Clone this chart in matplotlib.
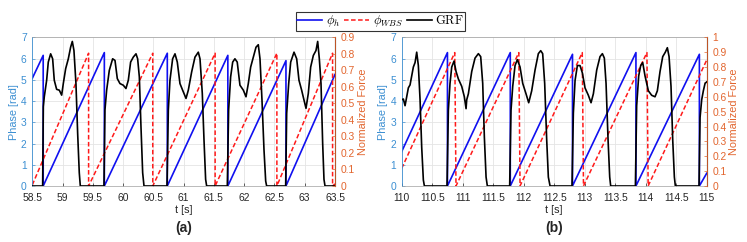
import numpy as np
import matplotlib.pyplot as plt
from matplotlib.lines import Line2D

plt.rcParams['font.family'] = ['Liberation Sans', 'DejaVu Sans']
plt.rcParams['mathtext.fontset'] = 'cm'

# ---- panel (a) ----
# phase of the hip oscillator, rad
blue_a_t = [58.5, 58.68, 58.68, 59.69, 59.69, 60.73, 60.73, 61.73, 61.73, 62.69, 62.69, 63.5]
blue_a = [5.07, 6.15, 0, 6.28, 0, 6.25, 0, 6.15, 0, 5.9, 0, 5.25]
# WBS phase, rad
red_a_t = [58.5, 59.43, 59.43, 60.49, 60.49, 61.52, 61.52, 62.54, 62.54, 63.46, 63.46, 63.5]
red_a = [0.05, 6.25, 0, 6.25, 0, 6.25, 0, 6.25, 0, 6.25, 0, 0.1]
# normalized ground reaction force
grf_a_t = [58.5, 58.671, 58.682, 58.698, 58.737, 58.764, 58.803, 58.836, 58.863, 58.902, 58.946,
           58.985, 59.012, 59.051, 59.095, 59.133, 59.161, 59.188, 59.221, 59.249, 59.276, 59.293,
           59.684, 59.700, 59.728, 59.772, 59.827, 59.866, 59.904, 59.948, 60.003, 60.047, 60.086,
           60.124, 60.168, 60.213, 60.240, 60.268, 60.295, 60.323, 60.345,
           60.725, 60.747, 60.774, 60.818, 60.857, 60.895, 60.939, 60.994, 61.039, 61.077, 61.132,
           61.187, 61.242, 61.270, 61.308, 61.336, 61.363, 61.380,
           61.721, 61.743, 61.776, 61.810, 61.847, 61.885, 61.930, 61.986, 62.030, 62.068, 62.107,
           62.151, 62.195, 62.233, 62.261, 62.294, 62.327, 62.355, 62.371,
           62.685, 62.702, 62.735, 62.768, 62.823, 62.867, 62.905, 62.949, 62.988, 63.021, 63.059,
           63.098, 63.142, 63.186, 63.214, 63.241, 63.269, 63.296, 63.318, 63.335, 63.5]
grf_a = [0, 0, 0.48, 0.54, 0.64, 0.75, 0.80, 0.77, 0.64, 0.585, 0.58,
         0.55, 0.62, 0.71, 0.77, 0.84, 0.875, 0.82, 0.62, 0.32, 0.08, 0,
         0, 0.46, 0.58, 0.70, 0.77, 0.76, 0.65, 0.62, 0.61, 0.59, 0.64,
         0.75, 0.78, 0.80, 0.77, 0.66, 0.36, 0.08, 0,
         0, 0.46, 0.64, 0.77, 0.80, 0.75, 0.62, 0.57, 0.53, 0.58, 0.69,
         0.78, 0.81, 0.77, 0.56, 0.28, 0.04, 0,
         0, 0.46, 0.66, 0.75, 0.77, 0.75, 0.61, 0.58, 0.54, 0.62, 0.72,
         0.78, 0.84, 0.855, 0.77, 0.52, 0.22, 0.03, 0,
         0, 0.44, 0.62, 0.75, 0.81, 0.77, 0.64, 0.58, 0.52, 0.47, 0.56,
         0.72, 0.79, 0.82, 0.875, 0.77, 0.62, 0.26, 0.04, 0, 0]

# ---- panel (b) ----
blue_b_t = [110, 110.75, 110.75, 111.78, 111.78, 112.80, 112.80, 113.84, 113.84, 114.88, 114.88, 115]
blue_b = [1.62, 6.28, 0, 6.28, 0, 6.2, 0, 6.28, 0, 6.2, 0, 0.6]
red_b_t = [110, 110.87, 110.89, 111.92, 111.94, 112.96, 112.98, 114.02, 114.04, 115]
red_b = [0.83, 6.28, 0, 6.28, 0, 6.28, 0, 6.28, 0, 5.93]
grf_b_t = [110.000, 110.027, 110.055, 110.082, 110.109, 110.137, 110.164, 110.191, 110.219, 110.246,
           110.273, 110.301, 110.328, 110.355, 110.372,
           110.743, 110.765, 110.792, 110.820, 110.858, 110.891, 110.929, 110.984, 111.027, 111.055,
           111.066, 111.093, 111.148, 111.202, 111.257, 111.295, 111.328, 111.355, 111.383, 111.404,
           111.770, 111.792, 111.820, 111.858, 111.896, 111.940, 111.984, 112.038, 112.082, 112.131,
           112.186, 112.240, 112.279, 112.311, 112.344, 112.377, 112.404, 112.432,
           112.792, 112.814, 112.842, 112.880, 112.923, 112.962, 113.005, 113.060, 113.104, 113.142,
           113.197, 113.251, 113.290, 113.322, 113.350, 113.383, 113.410, 113.426,
           113.831, 113.852, 113.885, 113.918, 113.951, 113.989, 114.044, 114.098, 114.153, 114.191,
           114.235, 114.279, 114.322, 114.355, 114.383, 114.415, 114.443, 114.470, 114.486,
           114.874, 114.891, 114.918, 114.945, 114.973, 115.0]
grf_b = [0.58, 0.585, 0.54, 0.60, 0.66, 0.68, 0.74, 0.80, 0.83, 0.90,
         0.81, 0.58, 0.26, 0.04, 0,
         0, 0.51, 0.69, 0.80, 0.84, 0.77, 0.72, 0.67, 0.60, 0.52,
         0.58, 0.62, 0.77, 0.86, 0.89, 0.87, 0.69, 0.33, 0.06, 0,
         0, 0.51, 0.67, 0.81, 0.85, 0.80, 0.69, 0.62, 0.56, 0.64,
         0.78, 0.89, 0.91, 0.89, 0.69, 0.31, 0.06, 0,
         0, 0.49, 0.71, 0.81, 0.81, 0.76, 0.66, 0.61, 0.56, 0.62,
         0.78, 0.87, 0.89, 0.86, 0.69, 0.31, 0.06, 0,
         0, 0.54, 0.74, 0.81, 0.83, 0.74, 0.64, 0.61, 0.60, 0.64,
         0.77, 0.87, 0.90, 0.93, 0.87, 0.67, 0.31, 0.06, 0,
         0, 0.46, 0.58, 0.64, 0.69, 0.70]

xticks_a = np.arange(58.5, 63.51, 0.5)
xticks_b = np.arange(110, 115.01, 0.5)

LBLUE = '#3C8FD2'
ORANGE = '#E2652E'
GRID = '#E4E4E4'
W, H = 747, 242

fig = plt.figure(figsize=(W / 100, H / 100), dpi=100)


def panel(rect, bt, b, rt, r, gt, g, xticks, ftop, fticks, tag):
    ax = fig.add_axes(rect)
    ax.plot(bt, b, color='#1010F0', lw=1.2)
    ax.plot(rt, r, color='#FF1A1A', lw=1.1, dashes=(3, 1.6))
    ax.set_xlim(xticks[0], xticks[-1])
    ax.set_ylim(0, 7)
    ax.set_xticks(xticks)
    ax.set_xticklabels(['%g' % v for v in xticks])
    ax.set_yticks(range(8))
    ax.grid(True, color=GRID, lw=0.6)
    ax.set_axisbelow(True)
    ax.tick_params(axis='x', direction='in', length=2.5, labelsize=7.4,
                   colors='#262626', pad=5, top=False, width=0.5)
    ax.tick_params(axis='y', direction='in', length=2.5, labelsize=7.4,
                   colors=LBLUE, pad=4, width=0.5)
    ax.set_ylabel('Phase [rad]', color=LBLUE, fontsize=7.8, labelpad=1.5)
    ax.set_xlabel('t [s]', fontsize=7.8, color='#262626', labelpad=1.5)
    ax.text(0.5, -(228 - 186) / 148.7, tag, transform=ax.transAxes, ha='center',
            va='center', fontsize=10, fontweight='bold', color='#262626')
    for s in ('top', 'bottom'):
        ax.spines[s].set_color('#A0A0A0')
        ax.spines[s].set_linewidth(0.5)
    ax.spines['left'].set_color(LBLUE)
    ax.spines['left'].set_linewidth(0.6)

    ax2 = ax.twinx()
    ax2.plot(gt, g, color='black', lw=1.2)
    ax2.set_ylim(0, ftop)
    ax2.set_yticks(fticks)
    ax2.set_yticklabels(['%g' % v for v in fticks])
    ax2.tick_params(axis='y', direction='in', length=2.5, labelsize=7.4,
                    colors=ORANGE, pad=4, width=0.5)
    ax2.set_ylabel('Normalized Force', color=ORANGE, fontsize=7.8, labelpad=2)
    ax2.spines['right'].set_color(ORANGE)
    ax2.spines['right'].set_linewidth(0.6)
    ax2.spines['left'].set_visible(False)
    ax2.spines['top'].set_visible(False)
    ax2.spines['bottom'].set_visible(False)
    return ax


panel([32.3 / W, 56 / H, 302.7 / W, 148.7 / H], blue_a_t, blue_a, red_a_t, red_a,
      grf_a_t, grf_a, xticks_a, 0.9, np.round(np.arange(0, 0.91, 0.1), 1), '(a)')
panel([401.7 / W, 56 / H, 305 / W, 148.7 / H], blue_b_t, blue_b, red_b_t, red_b,
      grf_b_t, grf_b, xticks_b, 1.0, np.round(np.arange(0, 1.01, 0.1), 1), '(b)')

handles = [Line2D([], [], color='#1010F0', lw=1.2),
           Line2D([], [], color='#FF1A1A', lw=1.1, dashes=(3, 1.6)),
           Line2D([], [], color='black', lw=1.2)]
leg = fig.legend(handles, [r'$\phi_h$', r'$\phi_{WBS}$', r'$\mathrm{GRF}$'],
                 loc='upper center', bbox_to_anchor=(380.5 / W, 1 - 12 / H), ncol=3,
                 fontsize=9, frameon=True, fancybox=False, handlelength=2.0,
                 handletextpad=0.3, columnspacing=0.3, borderpad=0.1,
                 borderaxespad=0)
leg.get_frame().set_edgecolor('black')
leg.get_frame().set_linewidth(0.8)

fig.savefig('out.png', dpi=100)
